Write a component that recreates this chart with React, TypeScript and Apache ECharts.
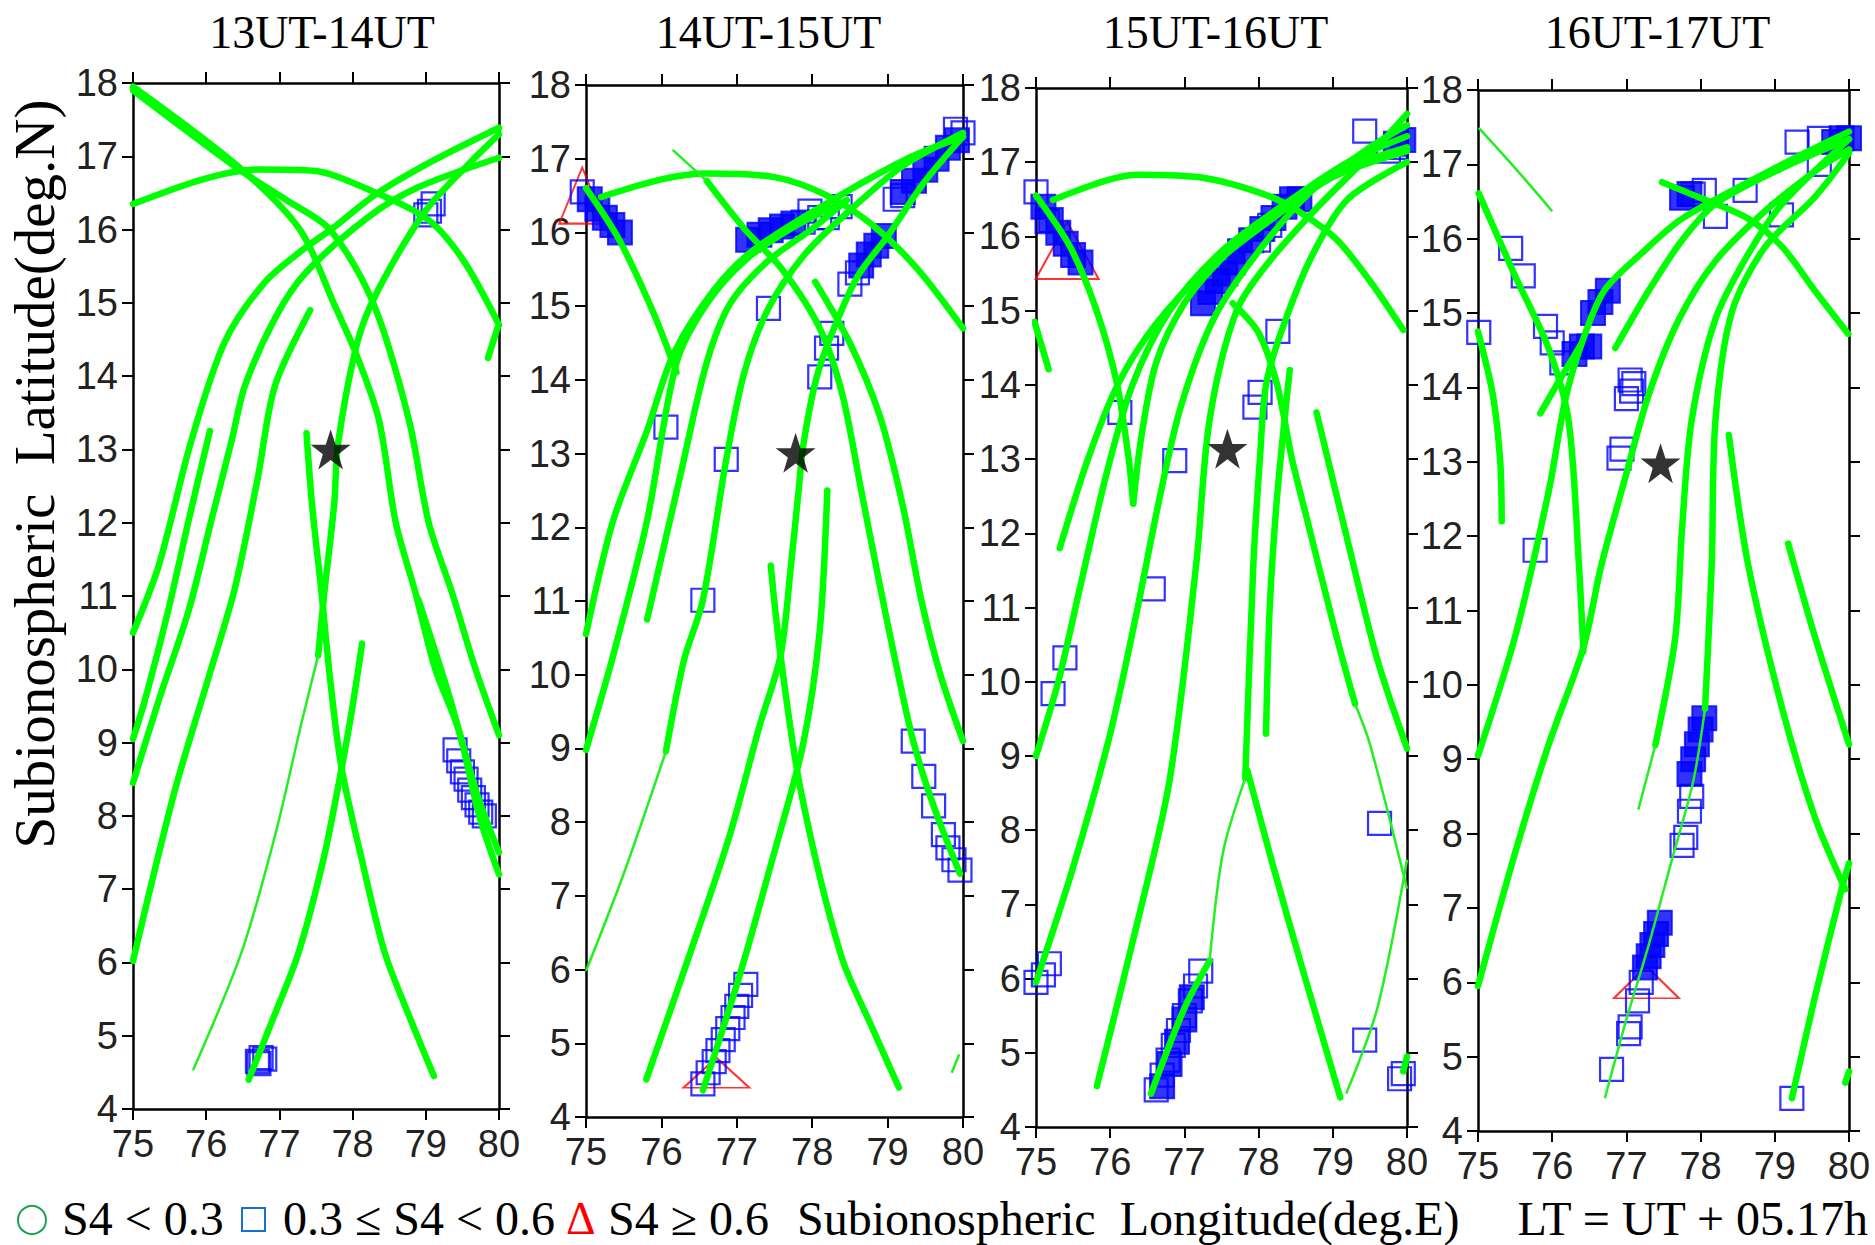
import React, { useEffect, useRef } from "react";
import * as echarts from "echarts";

// ---------------- DATA ----------------
const TITLES = ["13UT-14UT", "14UT-15UT", "15UT-16UT", "16UT-17UT"];
const X_MIN = 75, X_MAX = 80, Y_MIN = 4, Y_MAX = 18;

// Panel 1 (13UT-14UT)
const P1_TRACKS = [
  [[75, 17.95], [76.45, 16.85], [77.28, 16.0], [77.74, 15.0], [78.05, 14.3], [78.36, 13.4], [78.59, 12.0], [78.86, 11.04], [79.13, 10], [79.45, 9.17], [79.73, 8.0], [80, 7.2]],
  [[75, 17.9], [76.45, 16.82], [77.1, 16.4], [77.69, 16.0], [78.28, 15.0], [78.77, 13.4], [79.04, 12], [79.36, 11.04], [79.68, 10], [80, 9.1]],
  [[75, 16.35], [76, 16.7], [76.72, 16.82], [77.5, 16.8], [78.09, 16.6], [79, 16.16], [79.5, 15.6], [80, 14.7]],
  [[79.85, 14.25], [79.98, 14.66]],
  [[75, 10.5], [75.35, 11.41], [75.8, 13.13], [76.26, 14.48], [76.8, 15.28], [77.3, 15.71], [77.73, 16.02], [78.33, 16.49], [79.1, 16.94], [80, 17.39]],
  [[75, 9.05], [75.16, 9.57], [75.48, 10.8], [75.76, 12.03], [76.05, 13.25]],
  [[75, 8.45], [75.35, 9.57], [75.76, 10.8], [76.07, 12.03], [76.35, 13.13], [76.53, 13.87], [76.94, 14.79], [77.35, 15.4], [78.2, 16.16], [78.88, 16.57], [80, 16.98]],
  [[75, 6.02], [75.57, 8.34], [76.03, 9.88], [76.39, 11.1], [76.71, 12.64], [76.94, 13.87], [77.42, 14.9]],
  [[77.53, 10.19], [77.62, 11.1], [77.75, 12.27], [77.8, 13.07], [78.07, 14.48], [78.34, 15.16], [79, 16.26], [79.64, 16.95], [80, 17.3]],
  [[77.37, 13.22], [77.45, 12.2], [77.57, 11.1], [77.7, 9.8], [77.85, 8.65], [78.15, 7.3], [78.44, 6.13], [78.8, 5.2], [79.11, 4.45]],
  [[76.58, 4.4], [76.9, 5.2], [77.26, 6.13], [77.6, 7.4], [77.85, 8.65], [78.0, 9.5], [78.13, 10.35]],
  [[78.9, 10.95], [79.3, 9.7], [79.7, 8.3], [80, 7.5]],
];
const P1_THIN = [
  [[75.82, 4.53], [76.48, 6.13], [76.94, 7.73], [77.3, 9.26], [77.53, 10.19]],
];
const P1_SQUARES = [
  [79.0, 16.2], [79.1, 16.35], [79.05, 16.25],
  [76.7, 4.65], [76.75, 4.7], [76.8, 4.68], [76.72, 4.62],
  [79.4, 8.9], [79.45, 8.75], [79.5, 8.6], [79.55, 8.5], [79.6, 8.35], [79.65, 8.25], [79.7, 8.15], [79.75, 8.05], [79.8, 8.0],
];
const P1_BLOBS = [];
const P1_TRIANGLES = [];
const P1_STAR = [77.7, 13.0];

// Panel 2 (14UT-15UT)
const P2_TRACKS = [
  [[75, 16.6], [75.44, 15.9], [75.89, 14.92], [76.2, 14.1]],
  [[75.2, 16.48], [76.0, 16.72], [76.6, 16.8], [77.5, 16.75], [78.2, 16.5], [78.8, 16.1], [79.4, 15.5], [80, 14.7]],
  [[76.6, 16.7], [77.1, 16.05], [77.6, 15.5], [78.1, 14.7], [78.4, 13.8], [78.65, 12.5], [78.9, 11.2], [79.1, 10.2], [79.34, 9.1], [79.61, 8.22], [79.96, 7.3]],
  [[78.04, 15.33], [78.5, 14.5], [78.9, 13.5], [79.2, 12.3], [79.45, 11.0], [79.7, 10.0], [80, 9.1]],
  [[75, 10.55], [75.36, 12.09], [75.81, 13.31], [76.16, 14.35], [76.69, 15.21], [77.22, 15.76], [78.2, 16.4], [79.26, 17.0], [80, 17.3]],
  [[75, 8.98], [75.36, 10.26], [75.81, 12.09], [76.2, 14.23], [76.6, 15.03], [77.13, 15.64], [77.8, 16.1], [78.4, 16.4]],
  [[75.81, 10.75], [76.25, 12.7], [76.6, 14.23], [76.91, 15.03], [77.4, 15.6], [78.0, 16.05], [78.46, 16.44]],
  [[76.06, 8.96], [76.3, 10.2], [76.55, 11.01], [76.86, 12.92], [77.1, 14.1], [77.42, 14.97], [77.9, 15.7], [78.5, 16.3], [79.2, 16.9], [80, 17.35]],
  [[75.8, 4.51], [76.38, 6.22], [76.9, 7.8], [77.3, 9.3], [77.58, 10.26], [77.72, 11.5], [77.82, 12.5], [77.88, 13.1], [78.05, 14.0], [78.25, 14.6], [78.6, 15.4], [79.0, 15.95], [79.5, 16.7], [80, 17.3]],
  [[77.45, 11.48], [77.58, 10.26], [77.85, 8.42], [78.38, 6.2], [78.8, 5.2], [79.15, 4.4]],
  [[76.55, 4.36], [77.04, 5.93], [77.5, 7.6], [77.88, 9.06], [78.1, 10.6], [78.2, 12.5]],
];
const P2_THIN = [
  [[76.15, 17.12], [76.6, 16.7]],
  [[75, 5.98], [75.5, 7.3], [76.06, 8.96]],
  [[79.85, 4.6], [79.95, 4.85]],
];
const P2_SQUARES = [
  [74.95, 16.55], [77.97, 16.29], [78.2, 16.2], [78.37, 16.35], [77.88, 16.14], [78.1, 16.2],
  [77.42, 14.97], [78.1, 14.04], [78.19, 14.43], [78.26, 14.63], [76.06, 13.36], [76.86, 12.92], [76.55, 11.01],
  [78.5, 15.3], [78.6, 15.45], [79.1, 16.45], [79.2, 16.5], [79.9, 17.4], [80, 17.35],
  [79.34, 9.1], [79.48, 8.62], [79.61, 8.22], [79.74, 7.83], [79.8, 7.65], [79.88, 7.49], [79.96, 7.35],
  [76.55, 4.45], [76.62, 4.6], [76.7, 4.75], [76.75, 4.9], [76.82, 5.05], [76.88, 5.2], [76.95, 5.35], [77.0, 5.5], [77.05, 5.65], [77.12, 5.8],
];
const P2_BLOBS = [
  [75.05, 16.45], [75.15, 16.32], [75.25, 16.2], [75.35, 16.1], [75.45, 16.0],
  [77.15, 15.9], [77.3, 15.97], [77.45, 16.03], [77.6, 16.08], [77.75, 16.12],
  [78.65, 15.55], [78.75, 15.7], [78.85, 15.82], [78.95, 15.95],
  [79.2, 16.55], [79.35, 16.7], [79.5, 16.85], [79.65, 17.0], [79.8, 17.15], [79.92, 17.25],
];
const P2_TRIANGLES = [[74.95, 16.5], [76.73, 4.6]];
const P2_STAR = [77.78, 13.01];

// Panel 3 (15UT-16UT)
const P3_TRACKS = [
  [[75.0, 16.55], [75.46, 15.86], [75.82, 14.99], [76.09, 14.02], [76.25, 13.0], [76.31, 12.4]],
  [[76.31, 12.4], [76.42, 13.3], [76.62, 14.3], [77.0, 15.1], [77.5, 15.7], [78.2, 16.3], [79.0, 16.85], [80, 17.2]],
  [[75.23, 16.49], [76.36, 16.83], [77.25, 16.79], [78.15, 16.54], [78.6, 16.3], [79.05, 15.96], [79.5, 15.4], [79.95, 14.74]],
  [[74.98, 14.85], [75.17, 14.21]],
  [[75.32, 11.8], [75.7, 13.0], [76.1, 14.0], [76.6, 14.8], [77.3, 15.55], [78.2, 16.25], [79.0, 16.8], [80, 17.15]],
  [[75.0, 9.0], [75.3, 10.0], [75.6, 11.3], [75.95, 12.8], [76.3, 14.0], [76.8, 15.0], [77.5, 15.8], [78.3, 16.4], [79.2, 17.0], [80, 17.35]],
  [[75.0, 5.95], [75.5, 7.5], [76.0, 9.3], [76.35, 10.9], [76.65, 12.4], [76.95, 13.7], [77.4, 14.9], [78.0, 15.8], [78.7, 16.6], [79.5, 17.2], [80, 17.5]],
  [[75.82, 4.55], [76.36, 6.73], [76.8, 8.67], [77.16, 11.59], [77.34, 13.53], [77.7, 14.99], [78.15, 15.67], [78.8, 16.4], [79.5, 17.1], [80, 17.65]],
  [[76.55, 4.45], [77.0, 5.6], [77.34, 6.24]],
  [[77.82, 8.7], [77.93, 11.59], [78.02, 13.04], [78.1, 14.0], [78.3, 14.7], [78.7, 15.7], [79.2, 16.5], [80, 17.0]],
  [[77.65, 15.1], [78.0, 14.7], [78.25, 14.0], [78.45, 13.0], [78.65, 12.2], [79.05, 10.61], [79.3, 9.7]],
  [[78.1, 9.3], [78.15, 11.0], [78.25, 12.5], [78.42, 14.2]],
  [[77.85, 8.8], [78.2, 7.5], [78.6, 6.1], [79.1, 4.4]],
  [[78.78, 13.63], [79.2, 11.9], [79.6, 10.3], [80, 9.1]],
  [[79.95, 4.75], [80, 4.95]],
];
const P3_THIN = [
  [[77.34, 6.24], [77.52, 7.7], [77.82, 8.7]],
  [[79.3, 9.7], [79.5, 9.16], [80, 7.21]],
  [[79.18, 4.45], [79.6, 5.6], [80, 7.6]],
];
const P3_SQUARES = [
  [76.13, 13.63], [76.87, 12.98], [76.58, 11.25], [75.39, 10.32], [75.23, 9.84],
  [75.0, 5.95], [75.1, 6.05], [75.18, 6.2], [78.26, 14.72], [78.02, 13.9], [77.95, 13.7],
  [79.63, 8.09], [79.43, 5.17], [79.9, 4.65], [79.95, 4.72], [79.43, 17.42], [79.75, 17.15], [79.85, 17.2],
  [78.15, 16.15], [78.0, 15.95], [75.0, 16.6], [75.15, 16.2],
  [76.62, 4.5], [76.7, 4.7], [76.78, 4.9], [76.85, 5.1], [76.92, 5.3], [77.0, 5.5], [77.08, 5.7], [77.15, 5.9], [77.22, 6.1],
];
const P3_BLOBS = [
  [75.1, 16.4], [75.2, 16.22], [75.3, 16.05], [75.4, 15.9], [75.5, 15.75], [75.6, 15.65],
  [77.25, 15.1], [77.35, 15.25], [77.45, 15.4], [77.55, 15.5], [77.65, 15.65], [77.75, 15.8], [77.9, 15.95], [78.05, 16.1], [78.2, 16.25],
  [78.35, 16.4], [78.45, 16.5], [78.55, 16.5],
  [79.85, 17.25], [79.95, 17.3],
  [76.7, 4.55], [76.8, 4.85], [76.9, 5.15], [77.0, 5.45], [77.1, 5.75],
];
const P3_TRIANGLES = [[75.42, 15.81]];
const P3_STAR = [77.58, 13.14];

// Panel 4 (16UT-17UT)
const P4_TRACKS = [
  [[75.01, 16.61], [75.5, 15.5], [75.95, 14.53], [76.22, 13.56], [76.36, 11.62], [76.42, 10.45]],
  [[75.0, 5.95], [75.5, 7.74], [75.95, 9.19], [76.42, 10.5], [76.66, 11.6], [76.98, 12.77], [77.3, 13.9], [77.7, 14.9], [78.2, 15.7], [78.9, 16.4], [79.6, 16.95], [80, 17.2]],
  [[75.0, 9.05], [75.5, 10.65], [75.95, 12.59], [76.18, 13.85], [76.4, 14.6], [76.7, 15.3], [77.2, 15.8], [77.75, 16.27], [78.64, 16.76], [79.5, 17.2], [80, 17.44]],
  [[75.0, 14.75], [75.2, 13.9], [75.3, 13.0], [75.32, 12.2]],
  [[75.84, 13.65], [76.1, 14.1], [76.4, 14.6]],
  [[76.85, 14.53], [77.3, 15.3], [77.75, 15.98], [78.2, 16.47], [79.1, 16.95], [80, 17.34]],
  [[77.48, 16.76], [77.97, 16.56], [78.64, 16.27], [79.1, 15.89], [79.54, 15.3], [79.99, 14.72]],
  [[77.39, 9.19], [77.66, 10.65], [77.75, 12.1], [77.88, 13.56], [78.2, 14.92], [78.64, 15.79], [79.1, 16.47], [80, 17.34]],
  [[78.06, 9.68], [78.15, 11.62], [78.2, 13.56], [78.42, 15.01], [78.87, 15.89], [79.54, 16.56], [80, 17.15]],
  [[78.38, 13.36], [78.64, 11.62], [79.1, 9.68], [79.54, 8.22], [79.95, 7.25]],
  [[79.18, 11.9], [79.54, 10.65], [80, 9.2]],
  [[79.23, 4.44], [79.54, 5.8], [79.9, 7.25], [80, 7.6]],
  [[79.95, 4.65], [80, 4.8]],
];
const P4_THIN = [
  [[75.01, 17.49], [75.5, 16.95], [76.0, 16.37]],
  [[77.16, 8.32], [77.39, 9.19]],
  [[76.71, 4.44], [77.0, 5.5], [77.3, 6.5], [77.6, 7.6], [77.9, 8.7], [78.06, 9.68]],
];
const P4_SQUARES = [
  [75.01, 14.74], [75.44, 15.87], [75.61, 15.5], [75.91, 14.82], [76.0, 14.6], [76.13, 14.33], [75.77, 11.81],
  [76.94, 13.17], [76.9, 13.05], [77.07, 13.95], [77.1, 14.05], [76.8, 4.83], [77.03, 5.31], [77.05, 5.4],
  [77.15, 5.75], [77.2, 6.0], [77.75, 7.84], [77.8, 7.95], [77.85, 8.3], [77.88, 8.5],
  [78.2, 16.3], [78.6, 16.65], [79.09, 16.32], [79.3, 17.3], [79.6, 17.35], [79.6, 17.0], [77.9, 16.6], [78.05, 16.65], [79.23, 4.44],
  [77.0, 13.85], [77.05, 14.1],
];
const P4_BLOBS = [
  [76.3, 14.45], [76.4, 14.55], [76.5, 14.55],
  [76.55, 15.0], [76.65, 15.15], [76.75, 15.3],
  [77.25, 6.2], [77.3, 6.35], [77.35, 6.5], [77.4, 6.65], [77.45, 6.8],
  [77.85, 8.8], [77.9, 9.0], [77.95, 9.2], [78.0, 9.4], [78.05, 9.55],
  [77.75, 16.55], [77.85, 16.6],
  [79.8, 17.3], [79.9, 17.35], [80.0, 17.35],
];
const P4_TRIANGLES = [[77.27, 6.0]];
const P4_STAR = [77.46, 12.98];

const LEGEND_ITEMS = ["S4 < 0.3", "0.3 ≤ S4 < 0.6", "S4 ≥ 0.6"];
const X_TITLE = "Subionospheric  Longitude(deg.E)";
const Y_TITLE = "Subionospheric  Latitude(deg.N)";
const LT_NOTE = "LT = UT + 05.17h";

// ---------------- LAYOUT / STYLE ----------------
const GRIDS = [
  { left: 133, top: 83, width: 366, height: 1026 },
  { left: 586, top: 85, width: 377, height: 1032 },
  { left: 1036, top: 88, width: 371, height: 1039 },
  { left: 1478, top: 90, width: 371, height: 1041 },
];
const TRI_SIZES = [[], [[46, 56], [66, 30]], [[63, 57]], [[65, 32]]];
const STAR_PATH =
  "path://M50,0L61.8,35.1L97.6,35.1L68.5,56.7L79.4,91.5L50,70L20.6,91.5L31.5,56.7L2.4,35.1L38.2,35.1Z";

const PANELS = [
  { tracks: P1_TRACKS, thin: P1_THIN, squares: P1_SQUARES, blobs: P1_BLOBS, tri: P1_TRIANGLES, star: P1_STAR },
  { tracks: P2_TRACKS, thin: P2_THIN, squares: P2_SQUARES, blobs: P2_BLOBS, tri: P2_TRIANGLES, star: P2_STAR },
  { tracks: P3_TRACKS, thin: P3_THIN, squares: P3_SQUARES, blobs: P3_BLOBS, tri: P3_TRIANGLES, star: P3_STAR },
  { tracks: P4_TRACKS, thin: P4_THIN, squares: P4_SQUARES, blobs: P4_BLOBS, tri: P4_TRIANGLES, star: P4_STAR },
];

const TICK_FONT = { fontFamily: "Liberation Sans, Arial, sans-serif", fontSize: 38, color: "#222" };
const SERIF = "Liberation Serif, Times New Roman, serif";

function buildOption() {
  const grid: any[] = [];
  const xAxis: any[] = [];
  const yAxis: any[] = [];
  const series: any[] = [];
  const axisLine = { show: true, onZero: false, lineStyle: { color: "#000", width: 2.5 } };
  const axisTick = { show: true, inside: false, length: 11, lineStyle: { color: "#000", width: 2 } };

  PANELS.forEach((p, i) => {
    grid.push({ ...GRIDS[i], containLabel: false });
    xAxis.push({
      gridIndex: i, type: "value", min: X_MIN, max: X_MAX, interval: 1, position: "bottom",
      axisLine, axisTick, splitLine: { show: false },
      axisLabel: { ...TICK_FONT, margin: 16 },
    });
    xAxis.push({
      gridIndex: i, type: "value", min: X_MIN, max: X_MAX, interval: 1, position: "top",
      axisLine, axisTick, splitLine: { show: false }, axisLabel: { show: false },
    });
    yAxis.push({
      gridIndex: i, type: "value", min: Y_MIN, max: Y_MAX, interval: 1, position: "left",
      axisLine, axisTick, splitLine: { show: false },
      axisLabel: { ...TICK_FONT, margin: 15 },
    });
    yAxis.push({
      gridIndex: i, type: "value", min: Y_MIN, max: Y_MAX, interval: 1, position: "right",
      axisLine, axisTick, splitLine: { show: false }, axisLabel: { show: false },
    });
    const ax = { xAxisIndex: 2 * i, yAxisIndex: 2 * i };

    if (p.tri.length) {
      series.push({
        type: "scatter", ...ax, clip: false, z: 2, silent: true, symbol: "triangle",
        data: p.tri.map((t, k) => ({ value: t, symbolSize: TRI_SIZES[i][k] })),
        itemStyle: { color: "rgba(0,0,0,0)", borderColor: "#ff0000", borderWidth: 2 },
      });
    }
    if (p.blobs.length) {
      series.push({
        type: "scatter", ...ax, clip: false, z: 3, silent: true, symbol: "rect", symbolSize: 24,
        data: p.blobs, itemStyle: { color: "#0000ff", borderColor: "#0000ff", borderWidth: 2 },
      });
    }
    series.push({
      type: "scatter", ...ax, clip: false, z: 3, silent: true, symbol: "rect", symbolSize: 23,
      data: p.squares, itemStyle: { color: "rgba(0,0,0,0)", borderColor: "#0000ff", borderWidth: 2.2 },
    });
    p.tracks.forEach((t) => {
      series.push({
        type: "line", ...ax, data: t, showSymbol: false, smooth: 0.3, silent: true, z: 4,
        lineStyle: { color: "#00ff00", width: 6.5, cap: "round" },
      });
    });
    p.thin.forEach((t) => {
      series.push({
        type: "line", ...ax, data: t, showSymbol: false, smooth: 0.3, silent: true, z: 4,
        lineStyle: { color: "#22f022", width: 2.5 },
      });
    });
    series.push({
      type: "scatter", ...ax, z: 5, silent: true, symbol: STAR_PATH, symbolSize: [40, 40],
      data: [p.star], itemStyle: { color: "#000" },
    });
  });

  const graphic: any[] = [];
  TITLES.forEach((t, i) => {
    graphic.push({
      type: "text", x: GRIDS[i].left + GRIDS[i].width / 2 + (i === 0 ? 6 : -6), y: 32,
      style: { text: t, font: `46px ${SERIF}`, fill: "#000", textAlign: "center", textVerticalAlign: "middle" },
    });
  });
  graphic.push({
    type: "text", x: 34, y: 474, rotation: Math.PI / 2,
    style: { text: Y_TITLE, font: `57px ${SERIF}`, fill: "#000", textAlign: "center", textVerticalAlign: "middle" },
  });
  const ly = 1218;
  graphic.push({ type: "circle", shape: { cx: 32, cy: ly + 2, r: 14 }, style: { fill: "none", stroke: "#1aa050", lineWidth: 2 } });
  graphic.push({ type: "text", x: 62, y: ly, style: { text: LEGEND_ITEMS[0], font: `48px ${SERIF}`, fill: "#000", textVerticalAlign: "middle" } });
  graphic.push({ type: "rect", shape: { x: 242, y: ly - 10, width: 23, height: 23 }, style: { fill: "none", stroke: "#1a70d0", lineWidth: 2 } });
  graphic.push({ type: "text", x: 283, y: ly, style: { text: LEGEND_ITEMS[1], font: `48px ${SERIF}`, fill: "#000", textVerticalAlign: "middle" } });
  graphic.push({ type: "text", x: 566, y: ly, style: { text: "Δ", font: `46px ${SERIF}`, fill: "#ff0000", textVerticalAlign: "middle" } });
  graphic.push({ type: "text", x: 608, y: ly, style: { text: LEGEND_ITEMS[2], font: `48px ${SERIF}`, fill: "#000", textVerticalAlign: "middle" } });
  graphic.push({ type: "text", x: 797, y: ly, style: { text: X_TITLE, font: `48px ${SERIF}`, fill: "#000", textVerticalAlign: "middle" } });
  graphic.push({ type: "text", x: 1868, y: ly, style: { text: LT_NOTE, font: `48px ${SERIF}`, fill: "#000", textAlign: "right", textVerticalAlign: "middle" } });

  return { animation: false, backgroundColor: "#fff", grid, xAxis, yAxis, series, graphic };
}

export default function App() {
  const ref = useRef<HTMLDivElement>(null);
  useEffect(() => {
    if (!ref.current) return;
    const chart = echarts.init(ref.current, undefined, { renderer: "svg" });
    chart.setOption(buildOption() as any);
    return () => chart.dispose();
  }, []);
  return <div ref={ref} style={{ position: "absolute", left: 0, top: 0, width: 1875, height: 1245 }} />;
}
